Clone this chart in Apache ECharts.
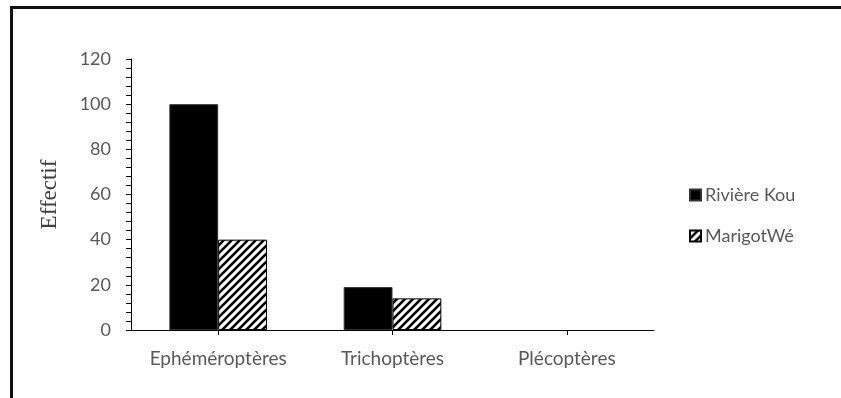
<!DOCTYPE html>
<html>
<head>
<meta charset="utf-8">
<script src="https://cdn.jsdelivr.net/npm/echarts@6/dist/echarts.min.js"></script>
<style>
  html, body { margin: 0; padding: 0; background: #fff; }
  #chart { width: 841px; height: 398px; }
  #frame {
    position: absolute; left: 10px; top: 6px; width: 831px; height: 392px;
    border-top: 3px solid #111; border-left: 3px solid #111;
    box-sizing: border-box; pointer-events: none;
  }
</style>
</head>
<body>
<div id="chart"></div>
<div id="frame"></div>
<script>
// Effectifs par ordre d'insectes aquatiques
const categories = ['Ephéméroptères', 'Trichoptères', 'Plécoptères'];
const seriesNames = ['Rivière Kou', 'MarigotWé'];
const riviereKou = [100, 19, 0];
const marigotWe = [40, 14, 0];
const yMin = 0, yMax = 120, yStep = 20;

// Diagonal hatching tile for the second series
function hatchTile() {
  const s = 8;
  const c = document.createElement('canvas');
  c.width = s; c.height = s;
  const g = c.getContext('2d');
  g.fillStyle = '#fff';
  g.fillRect(0, 0, s, s);
  g.strokeStyle = '#000';
  g.lineWidth = 2.6;
  g.beginPath();
  g.moveTo(-2, s + 2); g.lineTo(s + 2, -2);
  g.moveTo(-2, 2); g.lineTo(2, -2);
  g.moveTo(s - 2, s + 2); g.lineTo(s + 2, s - 2);
  g.stroke();
  return c;
}

// Empty bars get no outline so nothing shows on the axis
function barData(values) {
  return values.map(v => (v === 0 ? { value: v, itemStyle: { borderWidth: 0 } } : v));
}

const labelFont = 'Lato, "Open Sans", sans-serif';
const textColor = '#595959';

const chart = echarts.init(document.getElementById('chart'), null, { renderer: 'canvas' });
chart.setOption({
  animation: false,
  backgroundColor: '#fff',
  grid: { left: 131, right: 187, top: 59, bottom: 68, containLabel: false },
  legend: {
    orient: 'vertical',
    left: 689, top: 184,
    padding: 0,
    itemWidth: 11, itemHeight: 11, itemGap: 19,
    icon: 'rect',
    textStyle: { color: textColor, fontFamily: labelFont, fontSize: 18, lineHeight: 22, padding: [0, 0, 0, -1] },
    data: seriesNames
  },
  xAxis: {
    type: 'category',
    data: categories,
    axisLine: { lineStyle: { color: '#000', width: 1 } },
    axisTick: { show: true, alignWithLabel: true, interval: 0, inside: false, length: 5, lineStyle: { color: '#000' } },
    axisLabel: { color: textColor, fontFamily: labelFont, fontSize: 19, margin: 19, interval: 0, hideOverlap: false }
  },
  yAxis: {
    type: 'value',
    min: yMin, max: yMax, interval: yStep,
    name: 'Effectif',
    nameLocation: 'middle',
    nameGap: 70,
    nameRotate: 90,
    nameTextStyle: { color: '#404040', fontFamily: '"Liberation Serif", "DejaVu Serif", serif', fontSize: 23 },
    axisLine: { show: true, lineStyle: { color: '#000', width: 1 } },
    axisTick: { show: true, length: 5, lineStyle: { color: '#000' } },
    minorTick: { show: true, splitNumber: 5, length: 5, lineStyle: { color: '#000' } },
    splitLine: { show: false },
    axisLabel: { color: textColor, fontFamily: labelFont, fontSize: 18, margin: 20 }
  },
  series: [
    {
      name: seriesNames[0],
      type: 'bar',
      data: barData(riviereKou),
      barWidth: '28%',
      barGap: '0%',
      itemStyle: { color: '#000', borderColor: '#333', borderWidth: 1 }
    },
    {
      name: seriesNames[1],
      type: 'bar',
      data: barData(marigotWe),
      barWidth: '28%',
      barGap: '0%',
      itemStyle: {
        color: { image: hatchTile(), repeat: 'repeat' },
        borderColor: '#000', borderWidth: 1
      }
    }
  ]
});
</script>
</body>
</html>
